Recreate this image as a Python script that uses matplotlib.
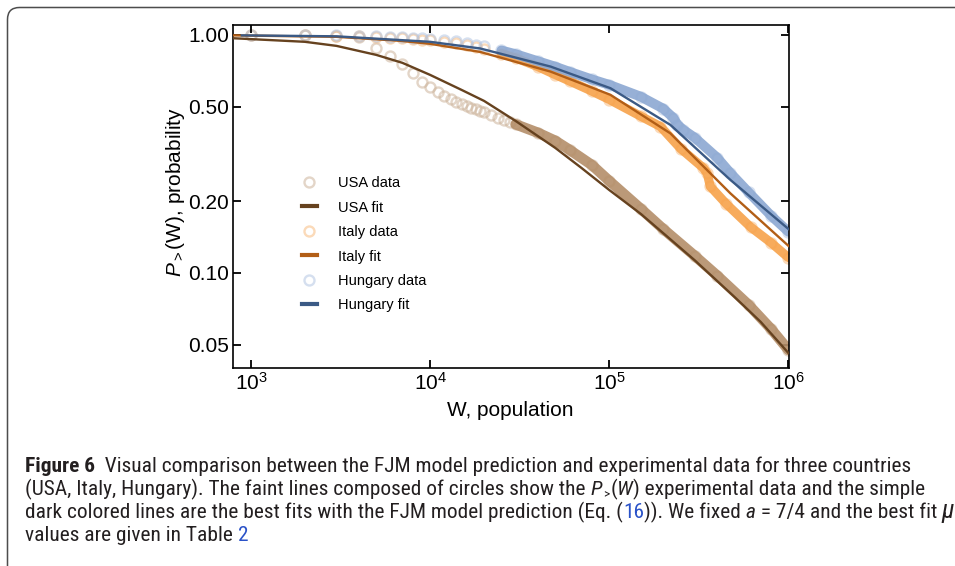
import matplotlib
matplotlib.use("Agg")
import matplotlib.pyplot as plt
import numpy as np
from matplotlib import font_manager
from matplotlib.lines import Line2D
from matplotlib.patches import FancyBboxPatch
from matplotlib.transforms import IdentityTransform
from matplotlib.ticker import FixedLocator, FixedFormatter, NullLocator

plt.rcParams["font.family"] = ["Liberation Sans", "DejaVu Sans"]
plt.rcParams["mathtext.fontset"] = "custom"
plt.rcParams["mathtext.rm"] = "Liberation Sans"
plt.rcParams["mathtext.it"] = "Liberation Sans:italic"
plt.rcParams["mathtext.bf"] = "Liberation Sans:bold"

# ── Data ──────────────────────────────────────────────────────────────────────
usa_w = [1000, 2000, 3000, 4000, 5000, 6000, 7000, 8000, 9000, 10000,
         11000, 12000, 13000, 14000, 15000, 16000, 17000, 18000, 19000, 20000,
         22000, 24000, 26000, 28000, 30000, 40000, 50000, 60000, 80000, 100000,
         150000, 200000, 300000, 400000, 600000, 800000, 1000000]
usa_p = [1.0, 0.995, 0.99, 0.981, 0.884, 0.818, 0.753, 0.690, 0.636, 0.606,
         0.578, 0.551, 0.536, 0.523, 0.513, 0.503, 0.494, 0.486, 0.479, 0.472,
         0.459, 0.448, 0.437, 0.429, 0.421, 0.388, 0.359, 0.329, 0.284, 0.2435,
         0.186, 0.153, 0.118, 0.0975, 0.0734, 0.0582, 0.0475]

italy_w = [1000, 2000, 3000, 4000, 5000, 6000, 7000, 8000, 9000, 10000,
           12000, 14000, 16000, 18000, 20000, 25000, 30000, 40000, 50000, 60000,
           80000, 100000, 150000, 193000, 250000, 335000, 352000, 366000, 450000,
           614000, 800000, 1000000]
italy_p = [1.0, 0.995, 0.99, 0.985, 0.978, 0.972, 0.966, 0.96, 0.954, 0.948,
           0.935, 0.92, 0.905, 0.89, 0.875, 0.835, 0.80, 0.735, 0.68, 0.64,
           0.58, 0.535, 0.455, 0.412, 0.333, 0.276, 0.262, 0.231, 0.195,
           0.156, 0.134, 0.116]

hungary_w = [1000, 2000, 3000, 4000, 5000, 6000, 7000, 8000, 9000, 10000,
             12000, 14000, 16000, 18000, 20000, 25000, 30000, 40000, 50000, 60000,
             80000, 100000, 150000, 200000, 228000, 240000, 259000, 300000, 400000,
             474000, 600000, 800000, 1000000]
hungary_p = [1.0, 0.997, 0.994, 0.99, 0.986, 0.982, 0.978, 0.974, 0.969, 0.964,
             0.953, 0.94, 0.925, 0.91, 0.895, 0.86, 0.83, 0.775, 0.735, 0.70,
             0.65, 0.617, 0.55, 0.49, 0.448, 0.42, 0.399, 0.37, 0.305,
             0.263, 0.218, 0.174, 0.149]

usa_fit_w = [794, 2000, 3000, 5000, 7000, 10000, 15000, 20000, 30000, 50000,
             70000, 100000, 150000, 200000, 300000, 500000, 700000, 1000000]
usa_fit_p = [0.968, 0.935, 0.899, 0.824, 0.763, 0.679, 0.587, 0.528, 0.435, 0.335,
             0.276, 0.223, 0.177, 0.147, 0.113, 0.0793, 0.0623, 0.0461]

italy_fit_w = [794, 3000, 6800, 10000, 19000, 47000, 101500, 219000, 474000, 1000000]
italy_fit_p = [0.995, 0.981, 0.944, 0.917, 0.848, 0.701, 0.56, 0.386, 0.216, 0.13]

hungary_fit_w = [890, 3000, 10000, 19000, 47000, 101500, 219000, 474000, 1000000]
hungary_fit_p = [0.995, 0.986, 0.935, 0.877, 0.736, 0.597, 0.419, 0.246, 0.153]

y_ticks = [0.05, 0.1, 0.2, 0.5, 1.0]
y_labels = ["0.05", "0.10", "0.20", "0.50", "1.00"]
x_ticks = [1e3, 1e4, 1e5, 1e6]
x_labels = [r"$10^3$", r"$10^4$", r"$10^5$", r"$10^6$"]

# ── Style ─────────────────────────────────────────────────────────────────────
W_PX, H_PX = 955, 566
USA_C, USA_BAND, USA_FIT = "#CDB49B", "#B48E69", "#66421F"
ITA_C, ITA_BAND, ITA_FIT = "#F8BC80", "#F7A24A", "#B25E16"
HUN_C, HUN_BAND, HUN_FIT = "#B3C6E3", "#8CA8D2", "#3B5A85"
TEXT_C = "#231F20"
LINK_C = "#2A52C8"

fig = plt.figure(figsize=(W_PX / 100, H_PX / 100), dpi=100)
ax = fig.add_axes([233 / W_PX, 1 - 368 / H_PX, (789 - 233) / W_PX, (368 - 25) / H_PX])
ax.set_xscale("log")
ax.set_yscale("log")
ax.set_xlim(794, 1.007e6)
ax.set_ylim(0.0399, 1.10)


def draw_data(w, p, circ, band, band_from, band_lw):
    w = np.asarray(w, float)
    p = np.asarray(p, float)
    ax.plot(w, p, "o", mfc="none", mec=circ, ms=7.2, mew=1.7, alpha=0.55, zorder=1)
    m = w >= band_from
    ax.plot(w[m], p[m], color=band, lw=band_lw, alpha=0.9, solid_capstyle="round", zorder=2)


draw_data(usa_w, usa_p, USA_C, USA_BAND, 30000, 7.5)
draw_data(italy_w, italy_p, ITA_C, ITA_BAND, 25000, 6.5)
draw_data(hungary_w, hungary_p, HUN_C, HUN_BAND, 25000, 7.0)

ax.plot(usa_fit_w, usa_fit_p, color=USA_FIT, lw=1.7, zorder=3)
ax.plot(italy_fit_w, italy_fit_p, color=ITA_FIT, lw=1.7, zorder=3)
ax.plot(hungary_fit_w, hungary_fit_p, color=HUN_FIT, lw=1.7, zorder=3)

# ── Axes styling ──────────────────────────────────────────────────────────────
ax.yaxis.set_major_locator(FixedLocator(y_ticks))
ax.yaxis.set_major_formatter(FixedFormatter(y_labels))
ax.xaxis.set_major_locator(FixedLocator(x_ticks))
ax.xaxis.set_major_formatter(FixedFormatter(x_labels))
ax.xaxis.set_minor_locator(NullLocator())
ax.yaxis.set_minor_locator(NullLocator())
ax.tick_params(which="major", direction="in", top=True, right=True,
               length=6, width=1.3, labelsize=15, pad=3, colors="black")
for s in ax.spines.values():
    s.set_linewidth(1.2)

fig.text(510 / W_PX, 1 - 410 / H_PX, "W, population", ha="center", va="center", fontsize=15)
fig.text(175 / W_PX, 1 - 192 / H_PX, r"$P_{>}$(W), probability", rotation=90,
         ha="center", va="center", fontsize=15)

# ── Legend ────────────────────────────────────────────────────────────────────
handles = [
    Line2D([], [], ls="none", marker="o", mfc="none", mec=USA_C, ms=7.2, mew=1.7, alpha=0.55, label="USA data"),
    Line2D([], [], color=USA_FIT, lw=3, label="USA fit"),
    Line2D([], [], ls="none", marker="o", mfc="none", mec=ITA_C, ms=7.2, mew=1.7, alpha=0.55, label="Italy data"),
    Line2D([], [], color=ITA_FIT, lw=3, label="Italy fit"),
    Line2D([], [], ls="none", marker="o", mfc="none", mec=HUN_C, ms=7.2, mew=1.7, alpha=0.55, label="Hungary data"),
    Line2D([], [], color=HUN_FIT, lw=3, label="Hungary fit"),
]
ax.legend(handles=handles, loc="upper left", bbox_to_anchor=((302 - 233) / 556, 1 - (176 - 25) / 343),
          frameon=False, fontsize=10.5, handlelength=1.0, handletextpad=1.5,
          labelspacing=0.72, borderpad=0, borderaxespad=0)

# ── Panel frame ───────────────────────────────────────────────────────────────
frame = FancyBboxPatch((7.5, -60), 1100, H_PX - 7.5 + 60,
                       boxstyle="round,pad=0,rounding_size=12",
                       transform=IdentityTransform(), fill=False,
                       ec="#4D4D4D", lw=1.1)
fig.add_artist(frame)

# ── Caption ───────────────────────────────────────────────────────────────────
names = {f.name for f in font_manager.fontManager.ttflist}
CAP_FONT = next((n for n in ["Liberation Sans Narrow", "DejaVu Sans Condensed",
                             "Roboto Condensed", "Liberation Sans"] if n in names), "DejaVu Sans")

caption = [
    [("Figure 6", {"weight": "bold"}),
     ("  Visual comparison between the FJM model prediction and experimental data for three countries", {})],
    [("(USA, Italy, Hungary). The faint lines composed of circles show the ", {}),
     ("P", {"style": "italic"}), (">", {"scale": 0.62, "dy": 3, "dx": 1}), ("(", {"dx": 1.5}),
     ("W", {"style": "italic"}), (") experimental data and the simple", {})],
    [("dark colored lines are the best fits with the FJM model prediction (Eq. (", {}),
     ("16", {"color": LINK_C}), (")). We fixed ", {}), ("a", {"style": "italic"}),
     (" = 7/4 and the best fit ", {}), ("\u03bc", {"style": "italic", "scale": 1.2})],
    [("values are given in Table ", {}), ("2", {"color": LINK_C})],
]
line_ends = [924, 937, 946, None]
baselines = [472, 495, 518, 541]

renderer = fig.canvas.get_renderer()


def fp_for(kw, size):
    return font_manager.FontProperties(family=[CAP_FONT, "DejaVu Sans"],
                                       weight=kw.get("weight", "normal"),
                                       style=kw.get("style", "normal"),
                                       size=size * kw.get("scale", 1.0))


def seg_width(s, fp):
    full = renderer.get_text_width_height_descent("|" + s + "|", fp, ismath=False)[0]
    bars = renderer.get_text_width_height_descent("||", fp, ismath=False)[0]
    return full - bars


# pick one caption size so that every line fits its reference width
base_size = 10.0
ratios = []
for runs, end in zip(caption, line_ends):
    if end is None:
        continue
    w = sum(seg_width(s, fp_for(kw, base_size)) + kw.get("dx", 0) for s, kw in runs)
    ratios.append((end - 25) / w)
cap_size = base_size * min(ratios)

for runs, yb in zip(caption, baselines):
    x = 25.0
    for s, kw in runs:
        fp = fp_for(kw, cap_size)
        x += kw.get("dx", 0)
        fig.text(x / W_PX, 1 - (yb + kw.get("dy", 0)) / H_PX, s, fontproperties=fp,
                 color=kw.get("color", TEXT_C), ha="left", va="baseline")
        x += seg_width(s, fp)

fig.savefig("out.png", dpi=100)
